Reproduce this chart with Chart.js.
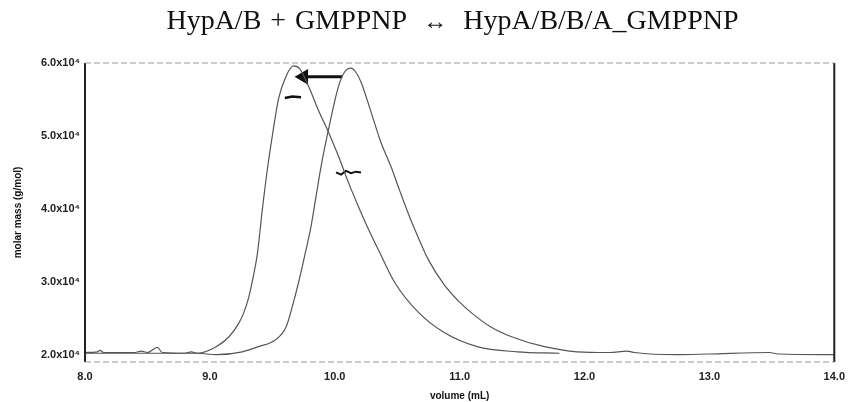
<!DOCTYPE html>
<html>
<head>
<meta charset="utf-8">
<script src="https://cdn.jsdelivr.net/npm/chart.js@4/dist/chart.umd.min.js"></script>
<style>
    body { margin: 0; background: #fff; }
    #wrap { position: relative; width: 853px; height: 402px; }
    #titre {
        position: absolute; top: 4px; left: 52px; right: 0;
        text-align: center; font-family: "Liberation Serif", serif;
        font-size: 28px; color: #111; word-spacing: 2px;
    }
    #titre b { font-size: 24px; margin: 0 16px; }
</style>
</head>
<body>
<div id="wrap">
    <div id="titre">HypA/B + GMPPNP<b>&#8596;</b>HypA/B/B/A_GMPPNP</div>
    <canvas id="graphe" width="853" height="402"></canvas>
</div>
<script>
// --- donnees (volume en mL, masse en g/mol) ---
const volA = [8.0, 8.1, 8.12, 8.15, 8.4, 8.45, 8.5, 8.58, 8.62, 8.8, 8.85, 8.9, 9.05, 9.155, 9.234, 9.27, 9.31, 9.345, 9.38, 9.42, 9.46, 9.50, 9.55, 9.61, 9.67, 9.72, 9.79, 9.87, 9.95, 10.03, 10.11, 10.19, 10.27, 10.36, 10.48, 10.67, 10.88, 11.14, 11.46, 11.8];
const masseA = [20300, 20400, 20600, 20300, 20300, 20500, 20300, 21000, 20300, 20200, 20400, 20200, 21100, 22500, 24400, 25700, 27800, 30500, 33800, 39900, 45400, 50000, 55100, 58200, 59600, 59200, 56800, 53500, 50500, 47200, 43600, 40300, 37200, 34000, 29900, 25800, 23000, 21100, 20400, 20200];

const volB = [8.0, 8.5, 8.9, 9.05, 9.26, 9.39, 9.53, 9.61, 9.66, 9.71, 9.77, 9.81, 9.85, 9.89, 9.95, 10.03, 10.08, 10.13, 10.17, 10.21, 10.29, 10.37, 10.45, 10.52, 10.59, 10.67, 10.75, 10.88, 11.0, 11.09, 11.25, 11.41, 11.68, 11.94, 12.2, 12.34, 12.4, 12.74, 13.0, 13.48, 13.55, 14.0];
const masseB = [20200, 20200, 20200, 20000, 20400, 21100, 22100, 23800, 26600, 29900, 34400, 37600, 41700, 45800, 50900, 56800, 58800, 59300, 58700, 57400, 53300, 49100, 45800, 42500, 39300, 36000, 33000, 29500, 27200, 25800, 23800, 22500, 21100, 20400, 20300, 20500, 20300, 20000, 20100, 20300, 20100, 20000];

// masse molaire mesuree sous chaque pic
const mmVolA = [9.60, 9.66, 9.73];
const mmA = [55200, 55400, 55300];
const mmVolB = [10.01, 10.05, 10.09, 10.13, 10.17, 10.21];
const mmB = [45000, 44700, 45200, 44900, 45100, 45000];

// fleche entre les deux pics
const flecheVol = [9.75, 10.06];
const flecheMasse = [58100, 58100];

const yTicks = [20000, 30000, 40000, 50000, 60000];

const pts = (xs, ys) => xs.map((x, i) => ({ x: x, y: ys[i] }));

const cadre = {
    id: 'cadre',
    afterDraw(chart) {
        const { ctx, chartArea: a } = chart;
        ctx.save();
        ctx.strokeStyle = '#222';
        ctx.lineWidth = 2;
        ctx.beginPath();
        ctx.moveTo(a.left, a.top); ctx.lineTo(a.left, a.bottom);
        ctx.moveTo(a.right, a.top); ctx.lineTo(a.right, a.bottom);
        ctx.stroke();
        ctx.strokeStyle = '#999';
        ctx.lineWidth = 1;
        ctx.setLineDash([6, 3]);
        ctx.beginPath();
        ctx.moveTo(a.left, a.top); ctx.lineTo(a.right, a.top);
        ctx.moveTo(a.left, a.bottom); ctx.lineTo(a.right, a.bottom);
        ctx.stroke();
        ctx.restore();
    }
};

new Chart(document.getElementById('graphe'), {
    type: 'line',
    data: {
        datasets: [{
            data: pts(volA, masseA),
            borderColor: '#555',
            borderWidth: 1.2,
            pointRadius: 0,
            cubicInterpolationMode: 'monotone'
        }, {
            data: pts(volB, masseB),
            borderColor: '#555',
            borderWidth: 1.2,
            pointRadius: 0,
            cubicInterpolationMode: 'monotone'
        }, {
            data: pts(mmVolA, mmA),
            borderColor: '#111',
            borderWidth: 2.5,
            pointRadius: 0
        }, {
            data: pts(mmVolB, mmB),
            borderColor: '#111',
            borderWidth: 2,
            pointRadius: 0
        }, {
            data: pts(flecheVol, flecheMasse),
            borderColor: '#111',
            backgroundColor: '#111',
            borderWidth: 3,
            pointStyle: 'triangle',
            pointRotation: -90,
            pointRadius: [6, 0],
            pointHoverRadius: 0
        }]
    },
    options: {
        responsive: false,
        animation: false,
        events: [],
        layout: { padding: { top: 63, right: 11, left: 12, bottom: 0 } },
        plugins: { legend: { display: false }, tooltip: { enabled: false } },
        scales: {
            x: {
                type: 'linear',
                min: 8, max: 14,
                grid: { display: false, drawTicks: false },
                border: { display: false },
                ticks: {
                    stepSize: 1,
                    padding: 8,
                    color: '#222',
                    font: { family: 'Liberation Sans', size: 11, weight: 'bold' },
                    callback: v => v.toFixed(1)
                },
                title: {
                    display: true,
                    text: 'volume (mL)',
                    color: '#111',
                    padding: { top: 3, bottom: 0 },
                    font: { family: 'Liberation Sans', size: 10, weight: 'bold' }
                },
                afterFit: s => { s.height = 40; }
            },
            y: {
                min: 19000, max: 60000,
                grid: { display: false, drawTicks: false },
                border: { display: false },
                afterBuildTicks: s => { s.ticks = yTicks.map(v => ({ value: v })); },
                ticks: {
                    padding: 5,
                    color: '#222',
                    font: { family: 'Liberation Sans', size: 11, weight: 'bold' },
                    callback: v => (v / 10000).toFixed(1) + 'x10\u2074'
                },
                title: {
                    display: true,
                    text: 'molar mass (g/mol)',
                    color: '#111',
                    padding: { top: 0, bottom: 6 },
                    font: { family: 'Liberation Sans', size: 10, weight: 'bold' }
                },
                afterFit: s => { s.width = 73; }
            }
        }
    },
    plugins: [cadre]
});
</script>
</body>
</html>
